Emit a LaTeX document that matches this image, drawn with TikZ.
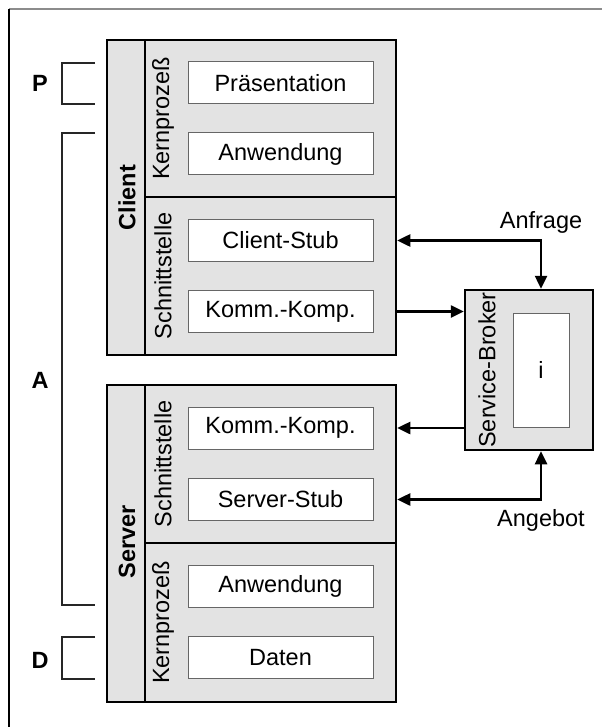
\documentclass[tikz,border=0pt]{standalone}
\usepackage{fontspec}
\setmainfont{Liberation Sans}
\usetikzlibrary{arrows.meta}
\definecolor{panel}{HTML}{E3E3E3}
\begin{document}
\begin{tikzpicture}[x=1pt,y=-1pt,
  every node/.style={font=\fontsize{23.5}{27}\selectfont, inner sep=0pt},
  panelbox/.style={draw=black, line width=2.5pt, fill=panel, rectangle},
  itembox/.style={draw=black!60, line width=1pt, fill=white, rectangle, minimum width=185pt, minimum height=42pt},
  vlabel/.style={rotate=90},
  blabel/.style={font=\fontsize{23.5}{27}\selectfont\bfseries},
  arr/.style={line width=2.5pt, -{Triangle[length=13pt,width=12pt]}},
  darr/.style={line width=2.5pt, {Triangle[length=13pt,width=12pt]}-{Triangle[length=13pt,width=12pt]}},
  bracket/.style={line width=1.5pt, draw=black!85}
]
\useasboundingbox (0,0) rectangle (602,727);
% frame
\draw[black!45, line width=1.2pt] (9,9) -- (602,9);
\draw[black, line width=1.5pt] (9,9) -- (9,727);

% client
\node[panelbox, minimum width=38pt, minimum height=315pt] (cstrip) at (126,197.5) {};
\node[panelbox, minimum width=251pt, minimum height=157pt] (ckern) at (270.5,118.5) {};
\node[panelbox, minimum width=251pt, minimum height=158pt] (cschnitt) at (270.5,276) {};
\node[blabel, vlabel] (clientlbl) at (127,197.5) {Client};
\node[vlabel] (ckernlbl) at (163,118.5) {Kernprozeß};
\node[vlabel] (cschnittlbl) at (163,276) {Schnittstelle};
\node[itembox] (praes) at (280.5,83) {Präsentation};
\node[itembox] (canw) at (280.5,154) {Anwendung};
\node[itembox] (cstub) at (280.5,240.5) {Client-Stub};
\node[itembox] (ckomm) at (280.5,311.5) {Komm.-Komp.};

% server
\node[panelbox, minimum width=38pt, minimum height=317pt] (sstrip) at (126,543.5) {};
\node[panelbox, minimum width=251pt, minimum height=158pt] (sschnitt) at (270.5,464) {};
\node[panelbox, minimum width=251pt, minimum height=159pt] (skern) at (270.5,622.5) {};
\node[blabel, vlabel] (serverlbl) at (127,541.5) {Server};
\node[vlabel] (sschnittlbl) at (163,464) {Schnittstelle};
\node[vlabel] (skernlbl) at (163,622.5) {Kernprozeß};
\node[itembox] (skomm) at (280.5,428) {Komm.-Komp.};
\node[itembox] (sstub) at (280.5,499.5) {Server-Stub};
\node[itembox] (sanw) at (280.5,586.5) {Anwendung};
\node[itembox] (daten) at (280.5,657.5) {Daten};

% broker
\node[panelbox, minimum width=128pt, minimum height=160pt] (broker) at (529,370) {};
\node[draw=black!60, line width=1pt, fill=white, minimum width=56pt, minimum height=114pt] (inner) at (541,370) {i};
\node[vlabel] (brokerlbl) at (487,370) {Service-Broker};

% connectors
\draw[darr] (cstub -| cschnitt.east) -| (inner.center |- broker.north);
\draw[arr] (ckomm -| cschnitt.east) -- (ckomm -| broker.west);
\draw[arr] (skomm -| broker.west) -- (skomm -| sschnitt.east);
\draw[darr] (sstub -| sschnitt.east) -| (inner.center |- broker.south);
\node (anfrage) at (541,222) {Anfrage};
\node (angebot) at (541,520) {Angebot};

% brackets
\draw[bracket] (95,63) -- (62,63) -- (62,104) -- (95,104);
\draw[bracket] (95,133) -- (62,133) -- (62,605) -- (95,605);
\draw[bracket] (95,637) -- (62,637) -- (62,679) -- (95,679);
\node[blabel] (plbl) at (40,83) {P};
\node[blabel] (albl) at (40,380) {A};
\node[blabel] (dlbl) at (40,660) {D};
\end{tikzpicture}
\end{document}
